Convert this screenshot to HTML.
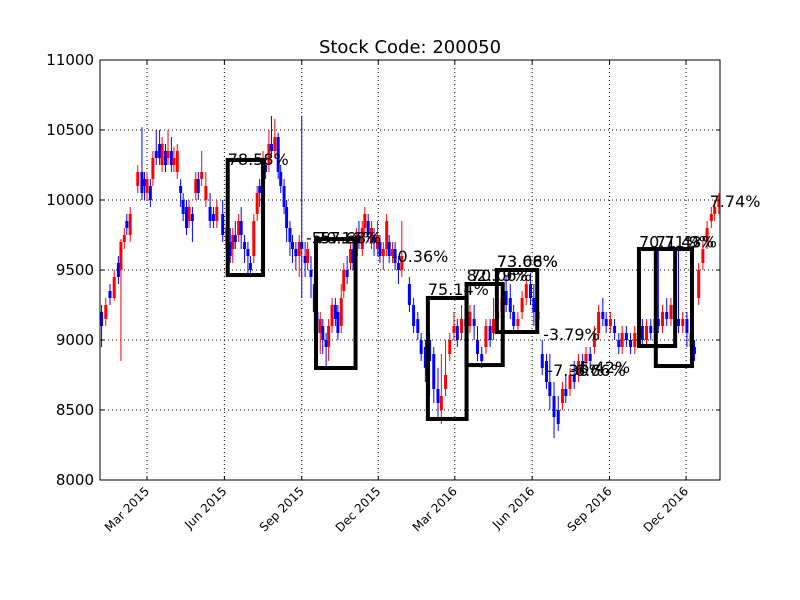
<!DOCTYPE html>
<html><head><meta charset="utf-8"><style>body{margin:0;background:#fff}svg{display:block}text{font-family:"DejaVu Sans","Liberation Sans",sans-serif}</style></head>
<body>
<svg id="chart" width="800" height="600" viewBox="0 0 800 600" xmlns="http://www.w3.org/2000/svg">
<rect width="800" height="600" fill="#fff"/>
<text x="410" y="53" font-size="18" text-anchor="middle">Stock Code: 200050</text>
<g id="grid"></g><g id="candles"></g><g id="boxes"></g><g id="labels"></g>
<rect x="100" y="60" width="620" height="420" fill="none" stroke="#000" stroke-width="1"/>
<g id="axes"></g>
</svg>
<script>
const days=[2,7,12,17,22,25,29,32,36,45,50,53,56,60,63,67,71,74,78,81,85,88,92,96,99,103,106,110,114,117,121,126,131,135,139,146,151,155,158,161,165,168,172,176,179,183,187,190,194,197,201,204,208,212,215,219,222,226,229,233,237,240,244,247,251,255,258,262,265,269,272,276,280,283,287,290,294,298,301,305,308,312,315,319,323,326,330,333,337,341,344,348,351,355,359,368,373,378,382,387,392,397,402,406,411,416,421,425,430,435,440,445,449,454,459,464,468,473,478,483,488,492,497,502,507,512,516,521,526,531,535,540,545,550,554,559,564,569,574,578,583,588,593,598,602,607,612,617,621,626,631,636,641,645,650,655,660,664,669,674,679,683,688,693,698,703,707,712,717,722,727,731,736];
const opens=[9200,9150,9350,9300,9550,9500,9700,9850,9750,10100,10200,10150,10050,10100,10150,10350,10400,10250,10350,10300,10350,10250,10200,10100,10000,9950,9850,9900,10050,10150,10150,10000,9950,9900,9850,9900,9800,9700,9650,9750,9750,9850,9700,9650,9550,9600,9900,10100,10150,10250,10250,10400,10350,10450,10200,10100,9950,9800,9700,9650,9600,9700,9600,9550,9500,9400,9200,9050,9100,9000,8950,9100,9250,9200,9100,9350,9500,9550,9650,9600,9750,9650,9800,9850,9700,9750,9650,9700,9600,9650,9700,9600,9650,9550,9500,9400,9250,9150,9000,8950,9000,8900,8650,8500,8650,8900,9050,9100,9050,9150,9100,9150,9000,8900,8950,9100,9050,9150,9200,9350,9300,9200,9100,9200,9300,9400,9300,9200,8900,8850,8700,8600,8500,8550,8650,8650,8750,8750,8850,8850,8900,8950,9050,9200,9150,9100,9100,9000,8950,9050,9000,8950,9050,9100,9000,9100,9050,9150,9100,9200,9150,9250,9150,9100,9150,9050,8950,9300,9550,9700,9850,9900,9950];
const closes=[9100,9250,9300,9450,9450,9700,9750,9800,9900,10200,10050,10100,10150,10000,10300,10300,10300,10400,10250,10350,10250,10300,10350,10050,9900,9800,9950,9850,10150,10050,10200,10100,9850,9850,9950,9750,9650,9600,9750,9700,9850,9750,9650,9600,9500,9850,10050,10050,10300,10200,10400,10350,10450,10200,10100,9950,9800,9700,9650,9600,9700,9650,9550,9650,9450,9200,9050,9150,9000,8950,9100,9250,9150,9050,9300,9500,9450,9650,9550,9750,9700,9800,9900,9750,9800,9700,9750,9600,9650,9850,9600,9650,9550,9500,9600,9250,9100,9050,8900,8800,8850,8650,8550,8600,8750,9000,9100,9000,9150,9100,9200,9100,8900,8850,9100,9000,9150,9200,9300,9250,9200,9100,9150,9300,9400,9300,9200,9150,8800,8700,8600,8450,8400,8650,8600,8750,8700,8850,8800,8900,8850,9050,9200,9150,9100,9150,9050,8950,9050,9000,8950,9050,9100,9000,9100,9050,9150,9100,9200,9150,9250,9150,9100,9150,9050,8950,8900,9500,9650,9800,9900,9950,10000];
const highs=[9250,9300,9400,9500,9600,9720,9800,9900,9950,10250,10520,10200,10200,10150,10350,10500,10500,10450,10400,10500,10450,10380,10400,10150,10050,10000,10000,9950,10200,10200,10350,10200,10050,9950,10000,10000,9850,9800,9800,9850,9900,9950,9750,9700,9600,9900,10100,10150,10350,10300,10500,10600,10580,10480,10250,10150,10000,9850,9750,9700,9750,10600,9700,9700,9600,9450,9250,9200,9150,9050,9150,9300,9300,9250,9400,9550,9600,9700,9700,9800,9850,9850,9950,9900,9850,9800,9850,9750,9700,9900,9750,9700,9700,9600,9850,9450,9300,9200,9050,9000,9050,8950,8800,8900,9000,9050,9200,9150,9250,9200,9250,9250,9100,8950,9150,9150,9300,9250,9350,9450,9400,9250,9200,9350,9450,9480,9400,9250,9000,8900,8900,8700,8600,8700,8750,8800,8850,8900,8900,8950,8950,9100,9250,9300,9200,9200,9150,9050,9100,9100,9050,9100,9200,9150,9150,9150,9250,9650,9250,9300,9300,9300,9650,9200,9200,9100,9000,9550,9700,9850,9950,10000,10050];
const lows=[8950,9100,9250,9280,9400,8850,9650,9750,9700,10050,10000,10000,10000,9950,10100,10250,10250,10200,10200,10250,10200,10200,10150,9950,9850,9750,9800,9700,10000,10000,10100,9950,9800,9800,9800,9700,9600,9550,9550,9650,9700,9650,9550,9450,9450,9550,9850,9950,10100,10150,10200,10300,10300,10150,10050,9900,9700,9600,9550,9500,9450,9300,9450,9500,9300,9050,8950,8900,8900,8800,8850,9050,9100,9000,9050,9300,9400,9500,9500,9550,9650,9600,9750,9700,9650,9600,9600,9550,9500,9600,9550,9550,9500,9400,9450,9200,9050,9000,8850,8700,8600,8550,8450,8400,8600,8850,9000,8950,9000,9050,9050,9000,8850,8800,8900,8950,9000,9100,9150,9200,9150,9050,9050,9150,9250,9250,9100,9100,8750,8650,8500,8300,8350,8500,8550,8600,8650,8700,8750,8800,8800,8900,9000,9100,9050,9050,9000,8900,8900,8950,8900,8900,9000,8950,8950,9000,9000,9050,9050,9100,9100,9100,9050,9050,8950,8900,8850,9250,9500,9650,9800,9850,9900];
const yTicks=[8000,8500,9000,9500,10000,10500,11000];
const xTickDays=[56,148,240,331,422,514,606,697];
const xTickLabels=["Mar 2015","Jun 2015","Sep 2015","Dec 2015","Mar 2016","Jun 2016","Sep 2016","Dec 2016"];
const boxStart=[152,257,390,436,472,641,661];
const boxEnd=[194,304,436,479,520,684,704];
const boxTop=[10286,9721,9300,9400,9500,9650,9650];
const boxBottom=[9464,8800,8436,8821,9057,8957,8814];
const labelTexts=["78.58%","-5","70.16%","57.68%","-0.36%","75.14%","82.79%","70.06%","73.66%","73.08%","-3.79%","-7.36%","-6.66%","6.42%","70.71%","71.43%","9%","7.74%"];
const labelDays=[152,245,257,262,347,390,436,441,472,472,527,532,558,570,641,661,700,725];
const labelValues=[10250,9690,9690,9690,9557,9320,9420,9420,9520,9520,9000,8743,8743,8765,9660,9660,9660,9950];

const NS="http://www.w3.org/2000/svg";
const X0=99.9,KX=0.841,Y0=480,KY=0.14;
function xs(d){return X0+d*KX;}
function ys(v){return Y0-(v-8000)*KY;}
function mk(tag,attrs,parent){const e=document.createElementNS(NS,tag);for(const k in attrs)e.setAttribute(k,attrs[k]);parent.appendChild(e);return e;}
const grid=document.getElementById('grid'),axes=document.getElementById('axes');
yTicks.forEach(v=>{
  if(v>8000&&v<11000){const g=mk('line',{x1:100,x2:720,y1:ys(v),y2:ys(v),stroke:'#000','stroke-dasharray':'1,3','stroke-width':1},grid);
  
  }
  const t=mk('text',{x:94,y:ys(v)+5,'font-size':15,'text-anchor':'end'},axes);t.textContent=v;
  
  
  mk('line',{x1:100,x2:104,y1:ys(v),y2:ys(v),stroke:'#000'},axes);
  mk('line',{x1:716,x2:720,y1:ys(v),y2:ys(v),stroke:'#000'},axes);
});
xTickDays.forEach((d,i)=>{
  const x=xs(d);
  const g=mk('line',{x1:x,x2:x,y1:60,y2:480,stroke:'#000','stroke-dasharray':'1,3','stroke-width':1},grid);
  
  
  mk('line',{x1:x,x2:x,y1:476,y2:480,stroke:'#000'},axes);
  mk('line',{x1:x,x2:x,y1:60,y2:64,stroke:'#000'},axes);
  const t=mk('text',{x:x+3,y:492,'font-size':12,'text-anchor':'end',transform:`rotate(-45 ${x+3} 492)`},axes);t.textContent=xTickLabels[i];
  
  
});
const cg=document.getElementById('candles');
days.forEach((d,i)=>{
  const x=xs(d),o=opens[i],c=closes[i],col=c>=o?'#ff0000':'#0000ff';
  const w=mk('line',{x1:x,x2:x,y1:ys(highs[i]),y2:ys(lows[i]),stroke:col,'stroke-width':1},cg);
  
  
  const top=ys(Math.max(o,c)),h=Math.max(1,Math.abs(ys(o)-ys(c)));
  const b=mk('rect',{x:x-1.5,y:top,width:3,height:h,fill:col},cg);
  
  
});
const bg=document.getElementById('boxes');
boxStart.forEach((s,i)=>{
  const r=mk('rect',{x:xs(s),y:ys(boxTop[i]),width:xs(boxEnd[i])-xs(s),height:ys(boxBottom[i])-ys(boxTop[i]),fill:'none',stroke:'#000','stroke-width':4},bg);
  
  
});
const lg=document.getElementById('labels');
labelTexts.forEach((s,i)=>{
  const t=mk('text',{x:xs(labelDays[i]),y:ys(labelValues[i]),'font-size':16},lg);t.textContent=s;
  
  
});
</script>
</body></html>
